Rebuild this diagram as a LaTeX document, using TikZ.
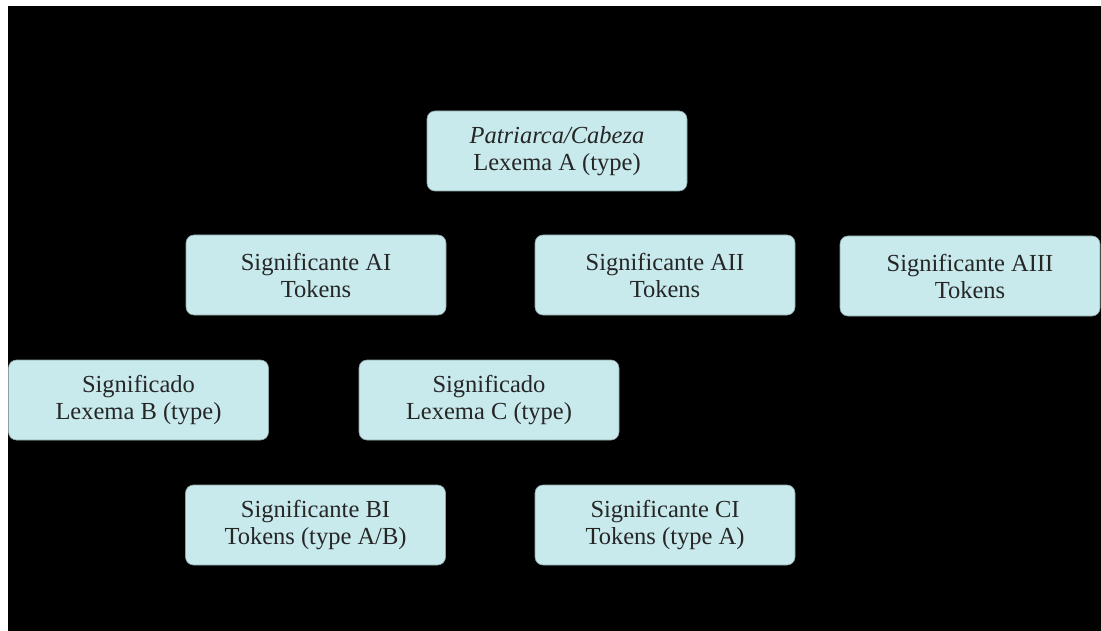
\documentclass[tikz,border=0pt]{standalone}
\usepackage{fontspec}
\setmainfont{Liberation Serif}
\definecolor{boxfill}{RGB}{200,234,236}
\begin{document}
\begin{tikzpicture}[x=1pt,y=-1pt,
  cbox/.style={rectangle, rounded corners=8pt, fill=boxfill, draw=boxfill!70!black, line width=0.6pt,
    minimum width=260pt, minimum height=80pt, align=center, inner sep=0pt,
    font=\fontsize{24.5}{27}\selectfont, text=black!85}]
\useasboundingbox (0,0) rectangle (1101,631);
\fill[white] (0,0) rectangle (1101,631);
\fill[black] (8,6) rectangle (1101,631);
\node[cbox] (top) at (557,151) {\textit{Patriarca/Cabeza}\\Lexema A (type)};
\node[cbox] (ai) at (316,275) {Significante AI\\Tokens};
\node[cbox] (aii) at (665,275) {Significante AII\\Tokens};
\node[cbox] (aiii) at (970,276) {Significante AIII\\Tokens};
\node[cbox] (b) at (138.5,400) {Significado\\Lexema B (type)};
\node[cbox] (c) at (489,400) {Significado\\Lexema C (type)};
\node[cbox] (bi) at (315.5,525) {Significante BI\\Tokens (type A/B)};
\node[cbox] (ci) at (665,525) {Significante CI\\Tokens (type A)};
\end{tikzpicture}
\end{document}
